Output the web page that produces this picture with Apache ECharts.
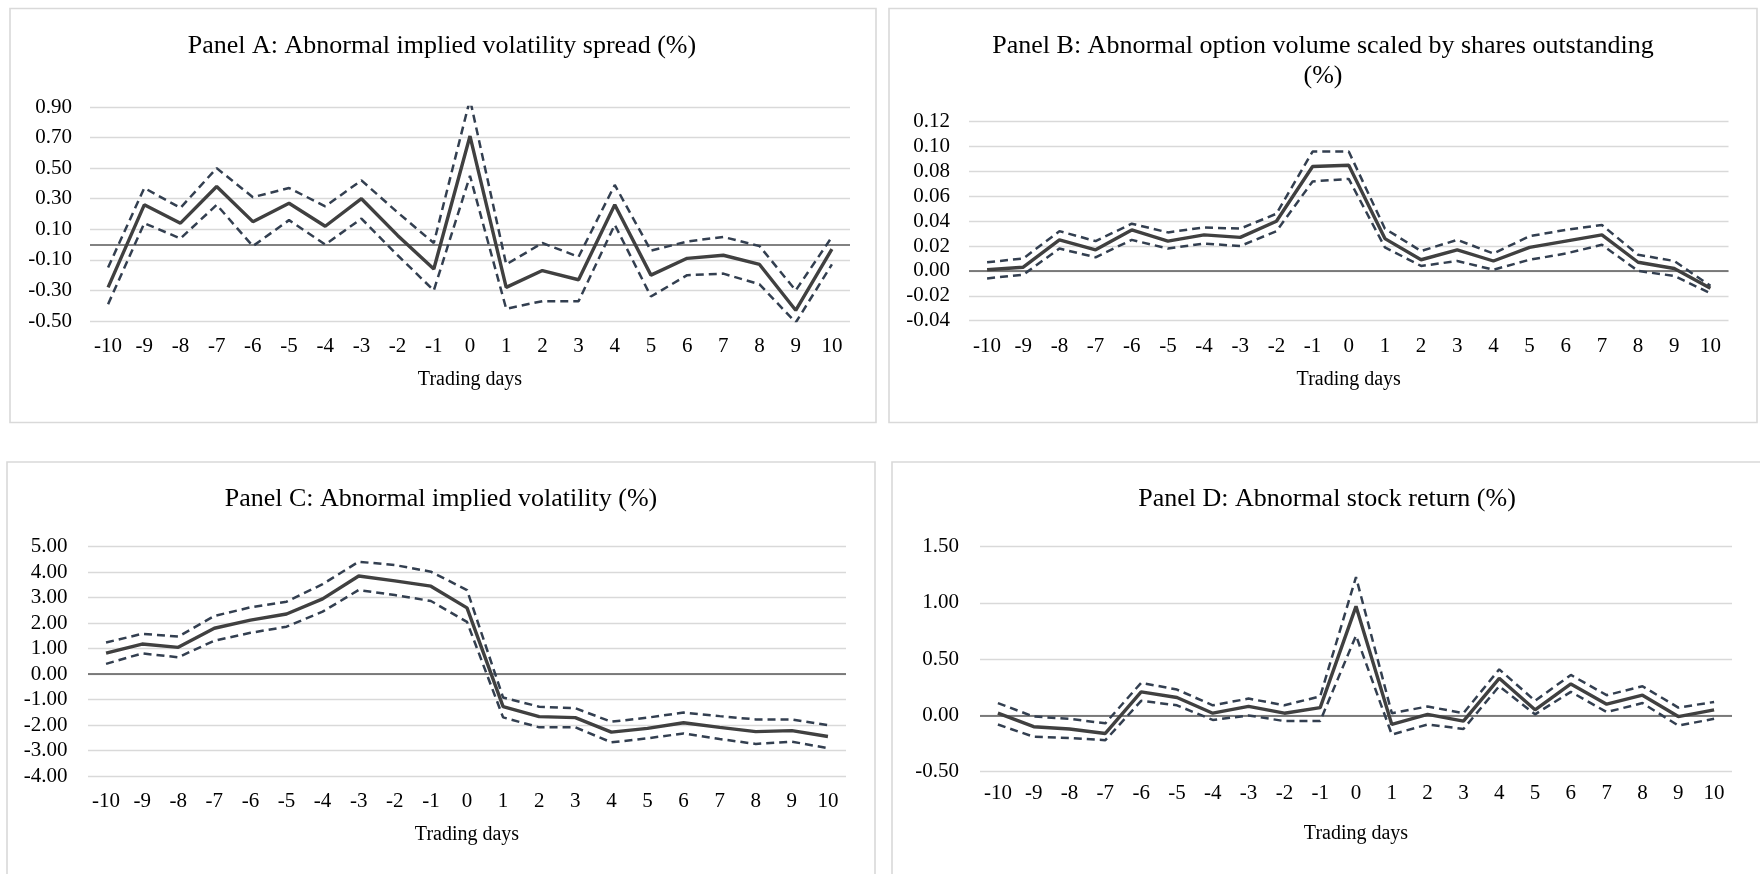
<!DOCTYPE html>
<html>
<head>
<meta charset="utf-8">
<script src="https://cdn.jsdelivr.net/npm/echarts@6/dist/echarts.min.js"></script>
<style>
  html, body { margin: 0; padding: 0; background: #ffffff; }
  #chart { width: 1760px; height: 874px; }
</style>
</head>
<body>
<div id="chart"></div>
<script>
// Event window: trading days -10 .. 10
const days = ['-10','-9','-8','-7','-6','-5','-4','-3','-2','-1','0','1','2','3','4','5','6','7','8','9','10'];

// Panel A: abnormal implied volatility spread (%), mean with upper / lower bounds
const spreadMean  = [-0.28, 0.26, 0.14, 0.38, 0.15, 0.27, 0.12, 0.30, 0.06, -0.16, 0.71, -0.28, -0.17, -0.23, 0.26, -0.20, -0.09, -0.07, -0.13, -0.43, -0.03];
const spreadUpper = [-0.15, 0.37, 0.24, 0.50, 0.31, 0.37, 0.25, 0.42, 0.21, 0.01, 0.95, -0.13, 0.01, -0.08, 0.39, -0.04, 0.02, 0.05, -0.01, -0.30, 0.05];
const spreadLower = [-0.39, 0.14, 0.04, 0.26, -0.01, 0.16, 0.00, 0.17, -0.07, -0.30, 0.45, -0.42, -0.37, -0.37, 0.13, -0.34, -0.20, -0.19, -0.26, -0.51, -0.13];

// Panel B: abnormal option volume scaled by shares outstanding (%)
const volumeMean  = [0.001, 0.003, 0.025, 0.017, 0.033, 0.024, 0.029, 0.027, 0.040, 0.084, 0.085, 0.026, 0.009, 0.017, 0.008, 0.019, 0.024, 0.029, 0.007, 0.002, -0.014];
const volumeUpper = [0.007, 0.010, 0.032, 0.024, 0.038, 0.031, 0.035, 0.034, 0.046, 0.096, 0.096, 0.034, 0.016, 0.025, 0.014, 0.028, 0.033, 0.037, 0.013, 0.008, -0.012];
const volumeLower = [-0.006, -0.003, 0.018, 0.011, 0.025, 0.018, 0.022, 0.020, 0.032, 0.072, 0.074, 0.019, 0.004, 0.008, 0.001, 0.009, 0.014, 0.021, 0.000, -0.004, -0.018];

// Panel C: abnormal implied volatility (%)
const ivMean  = [0.82, 1.18, 1.05, 1.80, 2.12, 2.36, 2.95, 3.85, 3.66, 3.45, 2.60, -1.28, -1.67, -1.71, -2.28, -2.13, -1.91, -2.09, -2.26, -2.22, -2.45];
const ivUpper = [1.24, 1.58, 1.47, 2.28, 2.62, 2.84, 3.53, 4.41, 4.28, 4.02, 3.30, -0.92, -1.28, -1.34, -1.87, -1.71, -1.51, -1.65, -1.78, -1.78, -2.00];
const ivLower = [0.40, 0.81, 0.66, 1.31, 1.62, 1.86, 2.45, 3.30, 3.10, 2.87, 2.05, -1.70, -2.09, -2.09, -2.68, -2.52, -2.33, -2.55, -2.74, -2.65, -2.91];

// Panel D: abnormal stock return (%)
const retMean  = [0.02, -0.10, -0.12, -0.16, 0.21, 0.16, 0.02, 0.08, 0.02, 0.07, 0.97, -0.08, 0.01, -0.05, 0.33, 0.05, 0.28, 0.10, 0.18, -0.01, 0.05];
const retUpper = [0.11, -0.01, -0.03, -0.07, 0.29, 0.23, 0.09, 0.15, 0.09, 0.17, 1.23, 0.02, 0.08, 0.02, 0.41, 0.13, 0.36, 0.18, 0.26, 0.07, 0.12];
const retLower = [-0.08, -0.19, -0.20, -0.22, 0.13, 0.09, -0.04, 0.00, -0.05, -0.05, 0.71, -0.17, -0.08, -0.12, 0.26, 0.01, 0.21, 0.03, 0.11, -0.09, -0.03];

// Panel titles and value-axis settings
const panelTitles = [
  'Panel A: Abnormal implied volatility spread (%)',
  'Panel B: Abnormal option volume scaled by shares outstanding\n(%)',
  'Panel C: Abnormal implied volatility (%)',
  'Panel D: Abnormal stock return (%)'
];
const axisMin      = [-0.5, -0.04, -4, -0.5];
const axisMax      = [0.9, 0.12, 5, 1.5];
const axisInterval = [0.2, 0.02, 1, 0.5];
const xAxisTitle = 'Trading days';

const FONT = "'Liberation Serif', 'Times New Roman', serif";
const panels = [
  { mean: spreadMean, upper: spreadUpper, lower: spreadLower },
  { mean: volumeMean, upper: volumeUpper, lower: volumeLower },
  { mean: ivMean, upper: ivUpper, lower: ivLower },
  { mean: retMean, upper: retUpper, lower: retLower }
];

// Layout of the four plot areas
const grids = [
  { left: 90,  top: 107,   width: 760,   height: 214 },
  { left: 969, top: 121.7, width: 759.5, height: 199 },
  { left: 88,  top: 546.7, width: 758,   height: 229.3 },
  { left: 980, top: 546.7, width: 752,   height: 225 }
];
const labelMargins = [18, 19, 20.5, 21];
const xLabelMargins = [15, 15, 15, 11];
const nameGaps = [49, 49, 49, 52];
const frames = [
  { x: 10,  y: 8.5, width: 866, height: 414 },
  { x: 889, y: 8.5, width: 868, height: 414 },
  { x: 7,   y: 462, width: 868, height: 440 },
  { x: 892, y: 462, width: 900, height: 440 }
];
const titlePos = [
  { x: 442, y: 46 },
  { x: 1323, y: 46 },
  { x: 441, y: 499 },
  { x: 1327, y: 499 }
];

const option = {
  backgroundColor: '#ffffff',
  animation: false,
  grid: grids.map(g => Object.assign({ containLabel: false, outerBoundsMode: 'none' }, g)),
  xAxis: grids.map((g, i) => ({
    type: 'category',
    gridIndex: i,
    data: days,
    boundaryGap: true,
    axisLine: { show: false },
    axisTick: { show: false },
    splitLine: { show: false },
    axisLabel: { interval: 0, margin: xLabelMargins[i], color: '#000', fontFamily: FONT, fontSize: 21 },
    name: xAxisTitle,
    nameLocation: 'middle',
    nameGap: nameGaps[i],
    nameTextStyle: { color: '#000', fontFamily: FONT, fontSize: 20 }
  })),
  yAxis: grids.map((g, i) => ({
    type: 'value',
    gridIndex: i,
    min: axisMin[i],
    max: axisMax[i],
    interval: axisInterval[i],
    axisLine: { show: false },
    axisTick: { show: false },
    splitLine: { show: true, lineStyle: { color: '#d9d9d9', width: 1.4 } },
    axisLabel: {
      margin: labelMargins[i], color: '#000', fontFamily: FONT, fontSize: 21,
      formatter: v => v.toFixed(2)
    }
  })),
  series: [],
  graphic: []
};

panels.forEach((p, i) => {
  const dashed = { color: '#333f50', width: 2.5, type: [8, 5] };
  option.series.push({
    type: 'line', xAxisIndex: i, yAxisIndex: i, data: p.lower,
    symbol: 'none', silent: true, lineStyle: dashed,
    markLine: {
      silent: true, symbol: ['none', 'none'], z: 1,
      label: { show: false },
      lineStyle: { color: '#595959', width: 1.6, type: 'solid' },
      data: [{ yAxis: 0 }]
    }
  });
  option.series.push({
    type: 'line', xAxisIndex: i, yAxisIndex: i, data: p.upper,
    symbol: 'none', silent: true, lineStyle: dashed
  });
  option.series.push({
    type: 'line', xAxisIndex: i, yAxisIndex: i, data: p.mean,
    symbol: 'none', silent: true,
    lineStyle: { color: '#404040', width: 3.4, type: 'solid' }
  });

  option.graphic.push({
    type: 'rect', silent: true, z: -1,
    shape: frames[i],
    style: { fill: 'none', stroke: '#d9d9d9', lineWidth: 1.6 }
  });
  option.graphic.push({
    type: 'text', silent: true,
    x: titlePos[i].x, y: titlePos[i].y - 15,
    style: {
      text: panelTitles[i], fill: '#000', font: '26px ' + FONT,
      textAlign: 'center', textVerticalAlign: 'top', lineHeight: 30
    }
  });
});

const chart = echarts.init(document.getElementById('chart'), null, { renderer: 'canvas' });
chart.setOption(option);
</script>
</body>
</html>
